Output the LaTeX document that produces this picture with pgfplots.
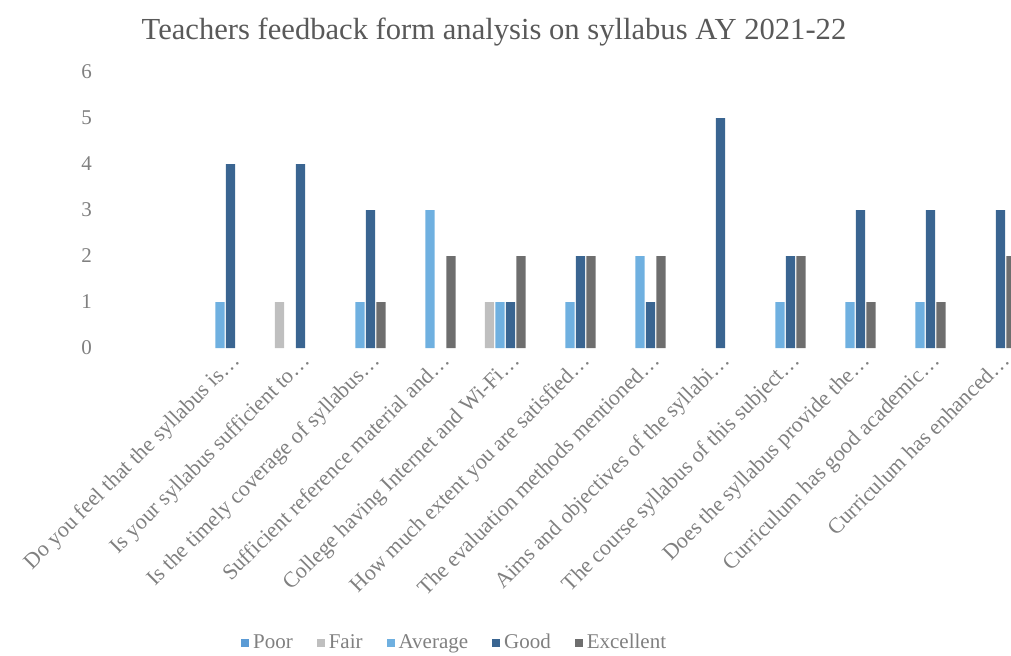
\documentclass[border=0pt]{standalone}
\usepackage{fontspec}
\setmainfont{Liberation Serif}
\usepackage{pgfplots}
\pgfplotsset{compat=1.18}

\definecolor{cPoor}{HTML}{5B9BD5}
\definecolor{cFair}{HTML}{BFBFBF}
\definecolor{cAvg}{HTML}{6FB0E0}
\definecolor{cGood}{HTML}{3A6591}
\definecolor{cExc}{HTML}{6E6E6E}
\definecolor{txt}{HTML}{808080}

\begin{document}
\begin{tikzpicture}
% picture frame: 1 px of the reference = 0.5pt
\path[use as bounding box] (0pt,0pt) rectangle (505.5pt,-328pt);
\node[text=black!65, font=\fontsize{15.3}{17}\selectfont] at (247pt,-16pt)
  {Teachers feedback form analysis on syllabus AY 2021-22};

\begin{axis}[
    at={(52.5pt,-174pt)}, anchor=south west,
    scale only axis,
    width=453pt, height=138pt,
    xmin=-1.643, xmax=11.3,
    ymin=0, ymax=6,
    clip=true,
    axis line style={draw=none},
    major tick length=0pt,
    ytick={0,1,...,6},
    xtick={0,1,...,11},
    xticklabels={
        {Do you feel that the syllabus is…},
        {Is your syllabus sufficient to…},
        {Is the timely coverage of syllabus…},
        {Sufficient reference material and…},
        {College having Internet and Wi-Fi…},
        {How much extent you are satisfied…},
        {The evaluation methods mentioned…},
        {Aims and objectives of the syllabi…},
        {The course syllabus of this subject…},
        {Does the syllabus provide the…},
        {Curriculum has good academic…},
        {Curriculum has enhanced…}},
    /pgf/number format/assume math mode=true,
    yticklabel style={text=txt, font=\fontsize{10.5}{12}\selectfont, xshift=-3pt},
    xticklabel style={text=txt, font=\fontsize{11}{13}\selectfont,
        rotate=45, anchor=north east, xshift=6pt, yshift=-1pt},
    legend columns=-1,
    legend style={at={(0.387,-1.069)}, anchor=center, draw=none, fill=none,
        font=\fontsize{10.5}{12}\selectfont, text=txt,
        /tikz/every even column/.append style={column sep=10pt}},
    legend image code/.code={\fill[#1] (0pt,-2pt) rectangle (4pt,2pt);},
]
% Poor: no answers in any category, listed in the legend only
\addlegendimage{fill=cPoor, draw=none}
\addplot[ybar, bar width=0.13, bar shift=-0.15, fill=cFair, draw=none] coordinates
  {(1,1) (4,1)};
\addplot[ybar, bar width=0.13, bar shift=0, fill=cAvg, draw=none] coordinates
  {(0,1) (2,1) (3,3) (4,1) (5,1) (6,2) (8,1) (9,1) (10,1)};
\addplot[ybar, bar width=0.13, bar shift=0.15, fill=cGood, draw=none] coordinates
  {(0,4) (1,4) (2,3) (4,1) (5,2) (6,1) (7,5) (8,2) (9,3) (10,3) (11,3)};
\addplot[ybar, bar width=0.13, bar shift=0.3, fill=cExc, draw=none] coordinates
  {(2,1) (3,2) (4,2) (5,2) (6,2) (8,2) (9,1) (10,1) (11,2)};
\legend{Poor, Fair, Average, Good, Excellent}
\end{axis}
\end{tikzpicture}
\end{document}
